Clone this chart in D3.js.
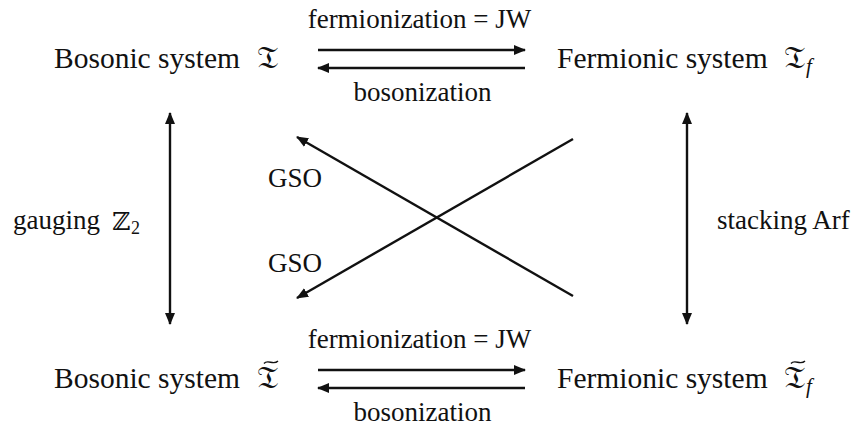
<!DOCTYPE html>
<html>
<head>
<meta charset="utf-8">
<script src="https://cdn.jsdelivr.net/npm/d3@7"></script>
<style>
  html, body { margin: 0; padding: 0; background: #fff; }
</style>
</head>
<body>
<div id="chart"></div>
<script>
// Diagram content
const nodeNames = ["Bosonic system", "Fermionic system", "Bosonic system", "Fermionic system"];
const nodeSymbols = ["𝔗", "𝔗", "𝔗", "𝔗"];
const nodeSubs = ["", "f", "", "f"];
const nodeTilde = [false, false, true, true];
const horizontalLabels = ["fermionization = JW", "bosonization"];
const verticalLabels = [{ main: "gauging", sym: "ℤ", sub: "2" }, { main: "stacking Arf", sym: "", sub: "" }];
const diagonalLabels = ["GSO", "GSO"];

const serif = "'Liberation Serif', 'Tinos', 'DejaVu Serif', serif";
const width = 857, height = 427;
const svg = d3.select("#chart").append("svg")
  .attr("width", width)
  .attr("height", height);

const defs = svg.append("defs");
defs.append("marker")
  .attr("id", "head")
  .attr("viewBox", "0 0 12 10")
  .attr("refX", 11)
  .attr("refY", 5)
  .attr("markerWidth", 12)
  .attr("markerHeight", 10)
  .attr("markerUnits", "userSpaceOnUse")
  .attr("orient", "auto-start-reverse")
  .append("path")
  .attr("d", "M0,0 L12,5 L0,10 Z")
  .attr("fill", "#111");

// helper for serif text
function txt(x, y, size, s) {
  return svg.append("text")
    .attr("x", x).attr("y", y)
    .attr("font-family", serif)
    .attr("font-size", size)
    .attr("fill", "#111")
    .text(s);
}

// layout scales
const rowY = d3.scalePoint().domain([0, 1]).range([68, 388]);   // baseline of node rows
const colX = d3.scalePoint().domain([0, 1]).range([240, 557]);  // left text end / right text start
const arrowX = d3.scaleLinear().domain([0, 1]).range([318, 525]);
const sideX = d3.scalePoint().domain([0, 1]).range([170, 687]);
const vertY = d3.scaleLinear().domain([0, 1]).range([113, 324]);
const diagX = d3.scaleLinear().domain([0, 1]).range([297, 573]);
const diagY = d3.scaleLinear().domain([0, 1]).range([137, 297]);

const nodeSize = 29.5, labelSize = 27;

// nodes
nodeNames.forEach((name, i) => {
  const col = i % 2, row = Math.floor(i / 2);
  const y = rowY(row);
  const t = txt(colX(col), y, nodeSize, name);
  let symX;
  if (col === 0) {
    t.attr("text-anchor", "end");
    symX = 257;
  } else {
    symX = 784;
  }
  svg.append("text")
    .attr("x", symX)
    .attr("y", y)
    .attr("font-family", "'DejaVu Serif', 'DejaVu Sans', serif")
    .attr("font-size", 32)
    .attr("fill", "#111")
    .text(nodeSymbols[i]);
  if (nodeSubs[i]) {
    txt(symX + 22, y + 5, 21, nodeSubs[i]).attr("font-style", "italic");
  }
  if (nodeTilde[i]) {
    const tx = symX + 7, ty = y - 27;
    svg.append("path")
      .attr("d", `M${tx},${ty + 2.5} C${tx + 4},${ty - 2.5} ${tx + 9},${ty + 5} ${tx + 14},${ty}`)
      .attr("fill", "none")
      .attr("stroke", "#111")
      .attr("stroke-width", 1.4);
  }
});

// horizontal arrows with labels
[0, 1].forEach(row => {
  const base = rowY(row);
  svg.append("line")
    .attr("x1", arrowX(0)).attr("x2", arrowX(1))
    .attr("y1", base - 18).attr("y2", base - 18)
    .attr("stroke", "#111").attr("stroke-width", 2.4)
    .attr("marker-end", "url(#head)");
  svg.append("line")
    .attr("x1", arrowX(0)).attr("x2", arrowX(1))
    .attr("y1", base).attr("y2", base)
    .attr("stroke", "#111").attr("stroke-width", 2.4)
    .attr("marker-start", "url(#head)");
  txt((arrowX(0) + arrowX(1)) / 2 - 2, base - 40, labelSize, horizontalLabels[0])
    .attr("text-anchor", "middle");
  txt((arrowX(0) + arrowX(1)) / 2 + 1, base + 33, labelSize, horizontalLabels[1])
    .attr("text-anchor", "middle");
});

// vertical arrows with labels
verticalLabels.forEach((lab, i) => {
  const x = sideX(i);
  svg.append("line")
    .attr("x1", x).attr("x2", x)
    .attr("y1", vertY(0)).attr("y2", vertY(1))
    .attr("stroke", "#111").attr("stroke-width", 2.4)
    .attr("marker-start", "url(#head)")
    .attr("marker-end", "url(#head)");
  if (i === 0) {
    txt(13, 229, labelSize, lab.main);
    svg.append("text")
      .attr("x", 112).attr("y", 230)
      .attr("font-family", "'DejaVu Serif', 'DejaVu Sans', serif")
      .attr("font-size", 25)
      .attr("fill", "#111")
      .text(lab.sym);
    txt(131, 234, 18, lab.sub);
  } else {
    txt(717, 229, labelSize, lab.main);
  }
});

// diagonal GSO arrows
svg.append("line")
  .attr("x1", diagX(1)).attr("y1", diagY(1) - 1)
  .attr("x2", diagX(0)).attr("y2", diagY(0))
  .attr("stroke", "#111").attr("stroke-width", 2.4)
  .attr("marker-end", "url(#head)");
svg.append("line")
  .attr("x1", diagX(1)).attr("y1", diagY(0) + 2)
  .attr("x2", diagX(0)).attr("y2", diagY(1) + 1)
  .attr("stroke", "#111").attr("stroke-width", 2.4)
  .attr("marker-end", "url(#head)");

diagonalLabels.forEach((lab, i) => {
  txt(268, i === 0 ? 187 : 272, labelSize, lab);
});
</script>
</body>
</html>
